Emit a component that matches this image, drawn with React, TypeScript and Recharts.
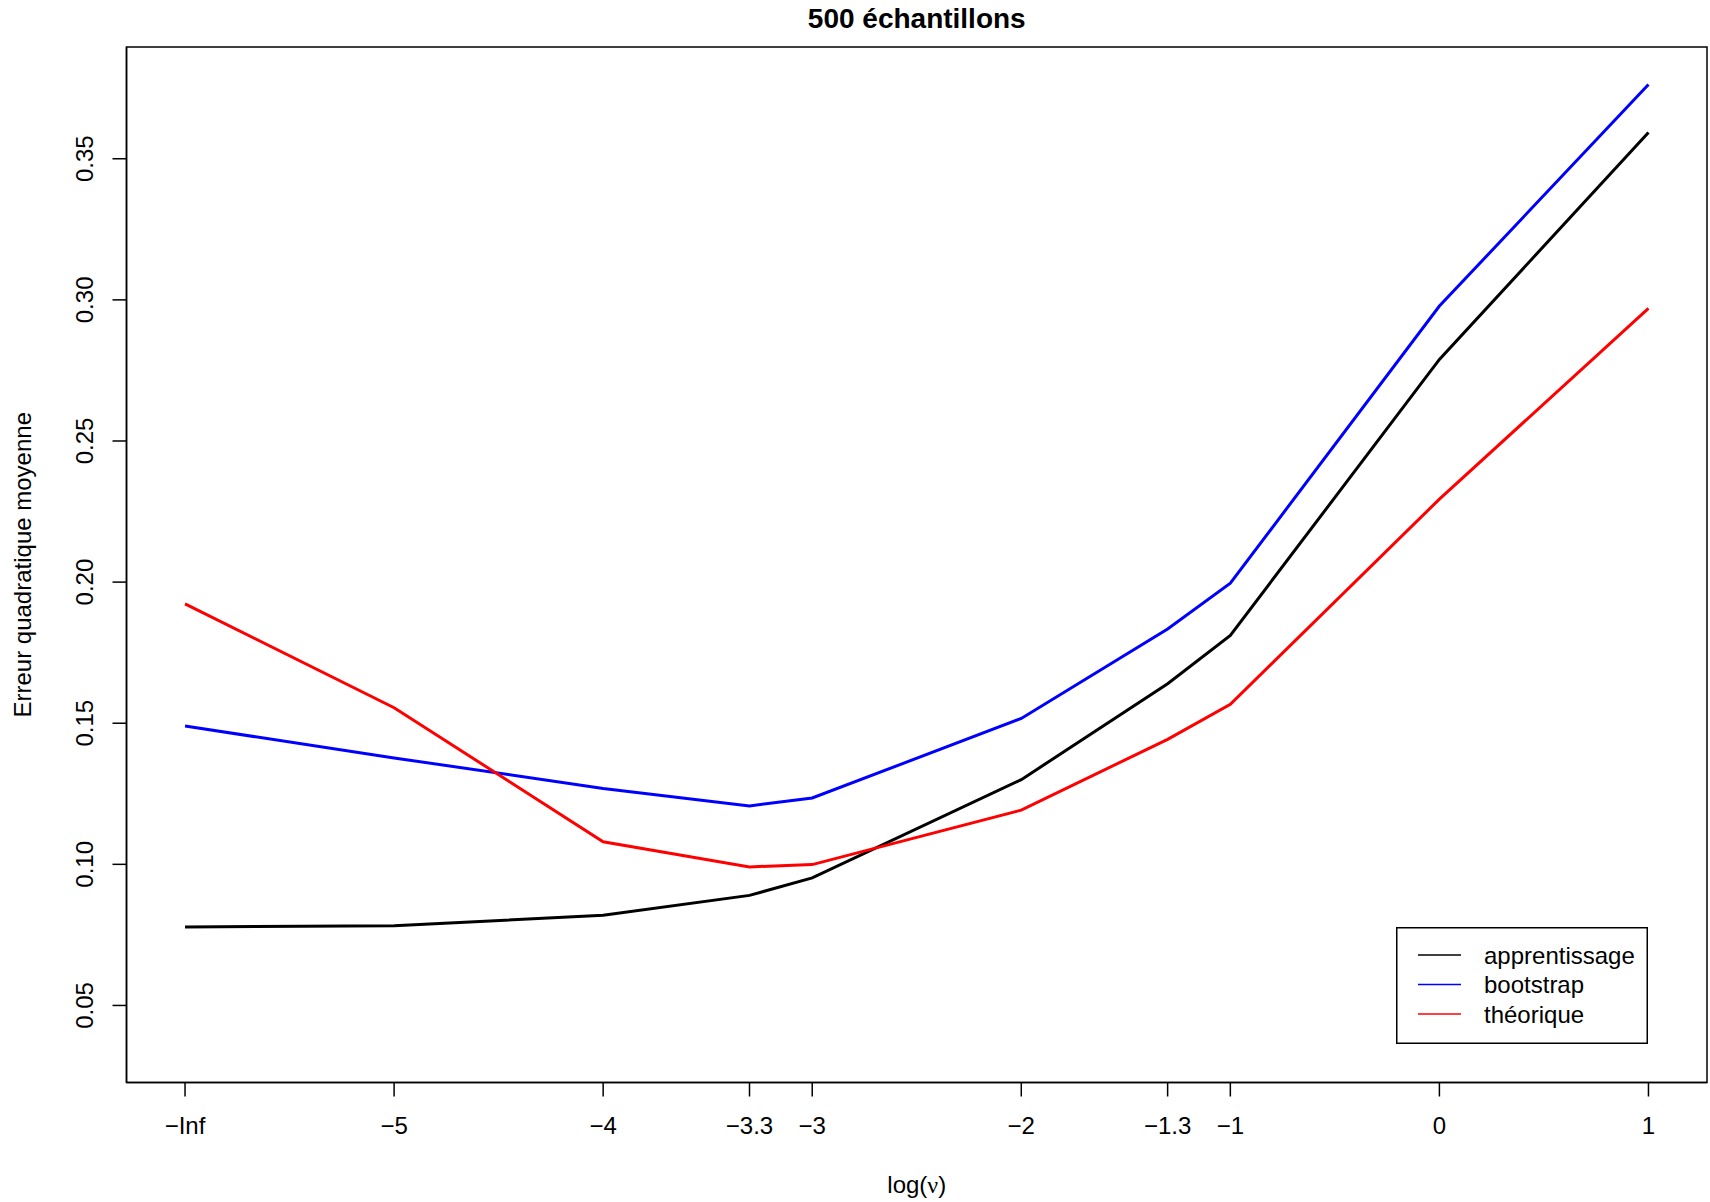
import React from "react";
import { LineChart, Line, XAxis, YAxis, ReferenceArea, Legend } from "recharts";

// log(nu) positions; -Inf is drawn at -6
const xValues = [-6, -5, -4, -3.3, -3, -2, -1.3, -1, 0, 1];
const xLabels = ["−Inf", "−5", "−4", "−3.3", "−3", "−2", "−1.3", "−1", "0", "1"];
const yTicks = [0.05, 0.1, 0.15, 0.2, 0.25, 0.3, 0.35];

const apprentissage = [0.0778, 0.0782, 0.082, 0.089, 0.0952, 0.13, 0.164, 0.1811, 0.2789, 0.3593];
const bootstrap = [0.149, 0.1377, 0.1269, 0.1207, 0.1235, 0.1517, 0.1834, 0.1996, 0.2978, 0.3763];
const theorique = [0.1923, 0.1555, 0.108, 0.0991, 0.0999, 0.1192, 0.1443, 0.1567, 0.2294, 0.297];

const FONT = "'Liberation Sans', Arial, Helvetica, sans-serif";
const X_DOMAIN: [number, number] = [-6.28, 1.28];
const Y_DOMAIN: [number, number] = [0.0227, 0.3896];

const data = xValues.map((x, i) => ({
  x,
  apprentissage: apprentissage[i],
  bootstrap: bootstrap[i],
  theorique: theorique[i],
}));

const fmtX = (v: number) => {
  const i = xValues.indexOf(v);
  return i >= 0 ? xLabels[i] : String(v);
};

const YTick = (props: any) => {
  const { x, y, payload } = props;
  return (
    <text
      x={x}
      y={y}
      transform={`rotate(-90, ${x}, ${y})`}
      textAnchor="middle"
      fontSize={24}
      fontFamily={FONT}
      fill="#000"
    >
      {payload.value.toFixed(2)}
    </text>
  );
};

const LegendBox = (props: any) => {
  const payload = props.payload || [];
  return (
    <svg width={252} height={117} style={{ display: "block" }}>
      <rect x={0.75} y={0.75} width={250.5} height={115.5} fill="#fff" stroke="#000" strokeWidth={1.5} />
      {payload.map((p: any, i: number) => {
        const cy = 28 + i * 29.5;
        return (
          <g key={p.value}>
            <line x1={22} x2={65} y1={cy} y2={cy} stroke={p.color} strokeWidth={1.5} />
            <text x={88} y={cy + 8.5} fontSize={24} fontFamily={FONT} fill="#000">
              {p.value}
            </text>
          </g>
        );
      })}
    </svg>
  );
};

export default function App() {
  return (
    <div style={{ position: "absolute", left: 0, top: 0, width: 1710, height: 1202, background: "#fff" }}>
      <div
        style={{
          position: "absolute",
          left: 126.5,
          width: 1580.5,
          top: 3,
          textAlign: "center",
          fontFamily: FONT,
          fontWeight: 700,
          fontSize: 28,
          lineHeight: "32px",
          color: "#000",
        }}
      >
        500 échantillons
      </div>
      <LineChart
        width={1710}
        height={1202}
        data={data}
        margin={{ top: 47, right: 3, left: 0, bottom: 0 }}
        style={{ position: "absolute", left: 0, top: 0 }}
      >
        <XAxis
          dataKey="x"
          type="number"
          domain={X_DOMAIN}
          ticks={xValues}
          interval={0}
          allowDataOverflow
          tickFormatter={fmtX}
          height={119.5}
          tickSize={14}
          tickMargin={20}
          axisLine={{ stroke: "#000", strokeWidth: 1.5 }}
          tickLine={{ stroke: "#000", strokeWidth: 1.5 }}
          tick={{ fontSize: 24, fontFamily: FONT, fill: "#000" }}
          label={(p: any) => {
            const vb = p.viewBox || {};
            return (
              <text x={vb.x + vb.width / 2} y={1193} textAnchor="middle" fontSize={24} fontFamily={FONT} fill="#000">
                log(<tspan fontFamily="'Liberation Serif', serif">ν</tspan>)
              </text>
            );
          }}
        />
        <YAxis
          type="number"
          domain={Y_DOMAIN}
          ticks={yTicks}
          interval={0}
          allowDataOverflow
          width={126.5}
          tickSize={14}
          tickMargin={19}
          axisLine={{ stroke: "#000", strokeWidth: 1.5 }}
          tickLine={{ stroke: "#000", strokeWidth: 1.5 }}
          tick={<YTick />}
          label={(p: any) => {
            const vb = p.viewBox || {};
            const cy = vb.y + vb.height / 2;
            return (
              <text
                x={31}
                y={cy}
                transform={`rotate(-90, 31, ${cy})`}
                textAnchor="middle"
                fontSize={24}
                fontFamily={FONT}
                fill="#000"
              >
                Erreur quadratique moyenne
              </text>
            );
          }}
        />
        <ReferenceArea
          x1={X_DOMAIN[0]}
          x2={X_DOMAIN[1]}
          y1={Y_DOMAIN[0]}
          y2={Y_DOMAIN[1]}
          fill="none"
          stroke="#000"
          strokeWidth={1.5}
          fillOpacity={0}
          ifOverflow="extendDomain"
        />
        <Line type="linear" dataKey="apprentissage" name="apprentissage" stroke="#000000" strokeWidth={3} dot={false} isAnimationActive={false} />
        <Line type="linear" dataKey="bootstrap" name="bootstrap" stroke="#0000FF" strokeWidth={3} dot={false} isAnimationActive={false} />
        <Line type="linear" dataKey="theorique" name="théorique" stroke="#FF0000" strokeWidth={3} dot={false} isAnimationActive={false} />
        <Legend
          layout="horizontal"
          verticalAlign="middle"
          align="center"
          content={<LegendBox />}
          wrapperStyle={{ position: "absolute", left: 1396, top: 927, width: 252, height: 117, bottom: "auto", right: "auto" }}
        />
      </LineChart>
    </div>
  );
}
